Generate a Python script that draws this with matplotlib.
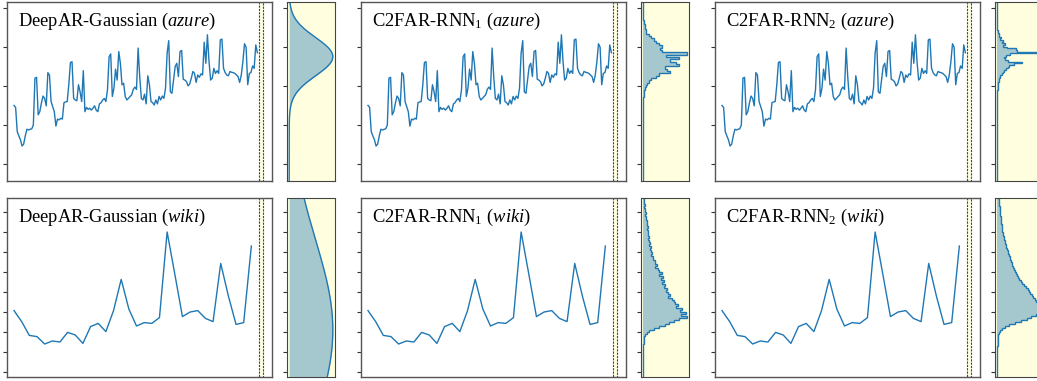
import numpy as np
import matplotlib.pyplot as plt

plt.rcParams['font.family'] = ['Liberation Serif', 'DejaVu Serif']
plt.rcParams['mathtext.fontset'] = 'custom'
plt.rcParams['mathtext.rm'] = 'Liberation Serif'
plt.rcParams['mathtext.it'] = 'Liberation Serif:italic'
plt.rcParams['mathtext.bf'] = 'Liberation Serif:bold'

# azure: normalised load history (same input for all three models)
azure = [15.0, 14.5, 8.3, 7.2, 6.2, 4.6, 5.1, 7.2, 8.9, 8.7, 8.9, 9.0, 10.0, 22.0, 22.2, 12.6,
         13.4, 15.6, 17.4, 16.8, 14.9, 23.4, 22.8, 16.0, 14.7, 13.4, 9.7, 11.5, 11.3, 11.7, 11.5,
         15.7, 15.9, 16.0, 20.3, 26.0, 26.2, 16.8, 16.4, 16.2, 20.3, 18.5, 16.0, 23.9, 13.4, 14.5,
         14.0, 14.3, 13.8, 14.3, 14.9, 13.8,
         13.4, 15.4, 15.7, 16.4, 16.8, 16.0, 19.0, 27.5, 28.2, 17.3, 19.4, 24.3, 21.5, 28.8, 25.8,
         20.3, 20.7, 17.3, 16.4, 16.8, 17.3, 17.7, 19.1, 19.7, 19.1, 29.7, 22.4, 16.8, 16.4, 17.9,
         15.4, 22.6, 20.3, 16.0, 15.7, 15.1, 16.4, 15.4, 17.3, 16.4, 17.4, 16.8, 19.4, 28.4, 31.6,
         18.5,
         18.1, 21.5, 25.0, 25.8, 22.4, 28.8, 29.1, 21.7, 21.5, 21.1, 20.0, 20.5, 22.0, 23.7, 23.2,
         20.9, 22.8, 22.2, 23.1, 22.8, 31.2, 25.8, 33.1, 26.2, 21.5, 22.0, 24.5, 23.2, 23.9, 23.2,
         31.8, 32.0, 24.5, 23.4, 22.8, 22.6, 23.7, 23.5, 23.4, 23.2, 22.8, 22.4, 20.9, 22.8, 26.2,
         30.8, 29.9, 20.3, 23.2, 23.4, 25.1, 24.5, 30.5, 28.5]

# wiki: daily page views (scaled)
wiki = [3.07, 2.52, 1.83, 1.77, 1.40, 1.55, 1.50, 1.98, 1.85, 1.43, 2.27, 2.43, 2.02, 3.07, 4.63, 3.15,
        2.30, 2.47, 2.43, 2.72, 7.00, 4.90, 2.77, 3.00, 3.07, 2.68, 2.52, 5.43, 3.80, 2.38, 2.47, 6.30]

# DeepAR Gaussian forecast parameters
gauss_azure = (27.5, 4.9)
gauss_wiki = (2.1, 4.5)

# C2FAR bin probabilities, listed from the top bin downwards
rnn1_azure_top, rnn1_azure_w = 37.0, 0.6
rnn1_azure = [0.015, 0.03, 0.045, 0.05, 0.06, 0.075, 0.14, 0.17, 0.24, 0.30, 0.36, 0.43, 0.39, 0.42,
              1.0, 0.53, 0.83, 0.61, 0.76, 0.82, 0.49, 0.55, 0.61, 0.36, 0.30, 0.19, 0.14, 0.09,
              0.06, 0.045, 0.03, 0.015, 0.008]

rnn2_azure_top, rnn2_azure_w = 34.36, 0.427
rnn2_azure = [0.015, 0.03, 0.05, 0.045, 0.08, 0.07, 0.13, 0.10, 0.18, 0.14, 0.22, 0.42, 0.46, 1.0,
              0.30, 0.21, 0.16, 0.19, 0.25, 0.57, 0.39, 0.27, 0.25, 0.21, 0.16, 0.13, 0.10, 0.075,
              0.06, 0.045, 0.035, 0.03, 0.02, 0.02, 0.015, 0.008]

rnn1_wiki_top, rnn1_wiki_w = 8.7, 0.1
rnn1_wiki = [0.02, 0.03, 0.02, 0.04, 0.03, 0.05, 0.04,
             0.06, 0.05, 0.07, 0.06, 0.08,
             0.09, 0.08, 0.10, 0.09, 0.11,
             0.10, 0.12, 0.13, 0.11, 0.14,
             0.15, 0.14, 0.17, 0.16, 0.19,
             0.20, 0.19, 0.23, 0.22, 0.26,
             0.27, 0.31, 0.28, 0.34, 0.37,
             0.42, 0.36, 0.45, 0.40, 0.47,
             0.44, 0.50, 0.47, 0.55, 0.52,
             0.58, 0.62, 0.57, 0.66, 0.70,
             0.74, 0.80, 0.76, 0.88, 0.84,
             0.97, 0.86, 1.00, 0.83, 0.70,
             0.60, 0.50, 0.36, 0.24, 0.14,
             0.08, 0.05, 0.03, 0.02, 0.015,
             0.01, 0.005]

rnn2_wiki_top, rnn2_wiki_w = 8.7, 0.1
rnn2_wiki = [0.04, 0.045, 0.05, 0.05, 0.055, 0.06, 0.065,
             0.07, 0.075, 0.08, 0.085, 0.09,
             0.095, 0.10, 0.11, 0.115, 0.12,
             0.13, 0.14, 0.15, 0.16, 0.17,
             0.18, 0.195, 0.21, 0.22, 0.24,
             0.255, 0.27, 0.29, 0.30, 0.32,
             0.34, 0.35, 0.37, 0.39, 0.41,
             0.43, 0.45, 0.48, 0.51, 0.55,
             0.58, 0.62, 0.66, 0.70, 0.73,
             0.76, 0.80, 0.83, 0.87, 0.90,
             0.93, 0.96, 0.98, 1.00, 0.99,
             0.95, 0.90, 0.78, 0.68, 0.55,
             0.40, 0.28, 0.17, 0.10, 0.06,
             0.04, 0.03, 0.02, 0.018, 0.015,
             0.01, 0.008]

models = ['DeepAR-Gaussian', 'C2FAR-RNN$_1$', 'C2FAR-RNN$_2$']
datasets = ['azure', 'wiki']
series = {'azure': azure, 'wiki': wiki}
ylims = {'azure': (-4.36, 41.5), 'wiki': (-0.25, 8.7)}
yticks = {'azure': np.arange(0, 41, 10), 'wiki': np.arange(0, 9, 1)}
dists = {
    ('azure', 0): ('gauss', gauss_azure),
    ('azure', 1): ('bins', (rnn1_azure, rnn1_azure_top, rnn1_azure_w)),
    ('azure', 2): ('bins', (rnn2_azure, rnn2_azure_top, rnn2_azure_w)),
    ('wiki', 0): ('gauss', gauss_wiki),
    ('wiki', 1): ('bins', (rnn1_wiki, rnn1_wiki_top, rnn1_wiki_w)),
    ('wiki', 2): ('bins', (rnn2_wiki, rnn2_wiki_top, rnn2_wiki_w)),
}

C0 = '#1f77b4'
YEL = '#ffffe0'
W, H = 1037, 381
fig = plt.figure(figsize=(W / 100, H / 100), dpi=100)

main_left = [7, 361, 715]
row_top = {'azure': 2, 'wiki': 198}
main_w, side_off, side_w, ax_h = 265, 280, 48, 179


def style(ax, dashed=False):
    ax.tick_params(axis='y', direction='out', length=3, width=0.8, labelleft=False, color='#333')
    ax.tick_params(axis='x', bottom=False, labelbottom=False)
    for sp in ax.spines.values():
        if dashed:
            sp.set_linestyle((0, (2, 1)))
            sp.set_linewidth(0.8)
            sp.set_edgecolor('#444')
        else:
            sp.set_linewidth(1.0)
            sp.set_edgecolor('#555')


for ds in datasets:
    y = np.array(series[ds])
    n = len(y)
    lo, hi = ylims[ds]
    bottom = (H - row_top[ds] - ax_h) / H
    for j, model in enumerate(models):
        ax = fig.add_axes([main_left[j] / W, bottom, main_w / W, ax_h / H])
        ax.plot(np.arange(n), y, color=C0, lw=1.0)
        # index 0 sits 7px in, index n (forecast step) 252px in
        scale = n / (252 / main_w - 7 / main_w)
        ax.set_xlim(-7 / main_w * scale, (1 - 7 / main_w) * scale)
        ax.axvspan(n, n + 4 / main_w * scale, facecolor=YEL, edgecolor='#444',
                   ls=(0, (2, 1)), lw=0.8)
        ax.set_ylim(lo, hi)
        ax.set_yticks(yticks[ds])
        ax.text(0.043, 0.865, f'{model} ($\\mathit{{{ds}}}$)', transform=ax.transAxes,
                fontsize=13.3, va='baseline', ha='left')
        style(ax)

        sax = fig.add_axes([(main_left[j] + side_off) / W, bottom, side_w / W, ax_h / H])
        sax.set_facecolor(YEL)
        kind, params = dists[(ds, j)]
        if kind == 'gauss':
            mu, sd = params
            yy = np.linspace(lo, hi, 400)
            pdf = np.exp(-0.5 * ((yy - mu) / sd) ** 2) / (sd * np.sqrt(2 * np.pi))
            sax.fill_betweenx(yy, 0, pdf, color=C0, alpha=0.4, lw=0)
            sax.plot(pdf, yy, color=C0, lw=1.0)
            peak = pdf.max()
        else:
            probs, top, w = params
            h = np.asarray(probs)[::-1]
            edges = top - w * np.arange(len(probs) + 1)[::-1]
            edges = np.concatenate([[lo], edges, [hi]])
            h = np.concatenate([[0], h, [0]])
            sax.stairs(h, edges, orientation='horizontal', fill=True, color=C0, alpha=0.4, lw=0)
            sax.stairs(h, edges, orientation='horizontal', color=C0, lw=1.0)
            peak = h.max()
        sax.set_xlim(-0.05 * peak, 1.05 * peak)
        sax.set_ylim(lo, hi)
        sax.set_yticks(yticks[ds])
        style(sax, dashed=True)

fig.savefig('out.png', dpi=100)
